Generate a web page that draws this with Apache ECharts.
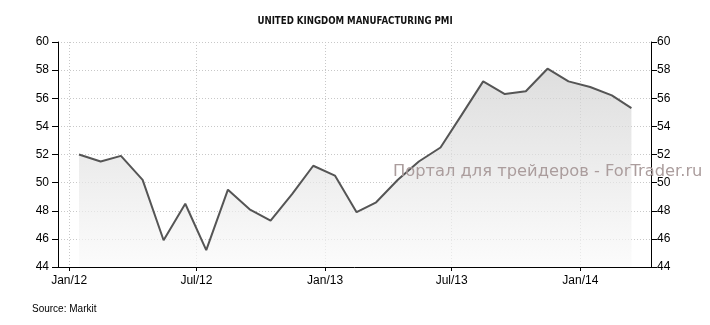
<!DOCTYPE html>
<html>
<head>
<meta charset="utf-8">
<script src="https://cdn.jsdelivr.net/npm/echarts@6/dist/echarts.min.js"></script>
<style>html,body{margin:0;padding:0;background:#fff}#c{width:710px;height:325px}</style>
</head>
<body>
<div id="c"></div>
<script>
var months = ['2012-01','2012-02','2012-03','2012-04','2012-05','2012-06','2012-07','2012-08','2012-09','2012-10','2012-11','2012-12',
  '2013-01','2013-02','2013-03','2013-04','2013-05','2013-06','2013-07','2013-08','2013-09','2013-10','2013-11','2013-12',
  '2014-01','2014-02','2014-03'];
var pmi = [52.0,51.5,51.9,50.2,45.9,48.5,45.2,49.5,48.1,47.3,49.2,51.2,
  50.5,47.9,48.6,50.2,51.5,52.5,54.8,57.2,56.3,56.5,58.1,57.2,
  56.8,56.2,55.3];
var tickDates = ['2012-01','2012-07','2013-01','2013-07','2014-01'];
var tickLabels = ['Jan/12','Jul/12','Jan/13','Jul/13','Jan/14'];
var axisStart = '2011-12-16', axisEnd = '2014-04-12';

function ts(s){ var p = s.split('-'); return Date.UTC(+p[0], +p[1]-1, p[2] ? +p[2] : 1); }
function mid(s){ var p = s.split('-'); return Date.UTC(+p[0], +p[1]-1, 15); }
var tickTs = tickDates.map(function(d){ return ts(d); });
var data = months.map(function(m,i){ return [mid(m), pmi[i]]; });

var chart = echarts.init(document.getElementById('c'));
var labelFont = {color:'#000', fontFamily:'Liberation Sans', fontSize:12};
var yCommon = {
  type:'value', min:44, max:60, interval:2,
  axisLine:{show:true, lineStyle:{color:'#000', width:1}},
  axisTick:{show:true, length:6, lineStyle:{color:'#000'}}
};
chart.setOption({
  animation:false,
  title:{text:'UNITED KINGDOM MANUFACTURING PMI', left:'center', top:11,
    textStyle:{fontFamily:'DejaVu Sans Condensed', fontWeight:'bold', fontSize:9.6, color:'#111'}},
  grid:{left:58, right:59, top:42, bottom:58},
  xAxis:{type:'value', min:ts(axisStart), max:ts(axisEnd),
    axisLine:{lineStyle:{color:'#000', width:1}, onZero:false},
    axisTick:{customValues:tickTs, length:4, lineStyle:{color:'#000'}},
    axisLabel:Object.assign({customValues:tickTs, margin:8,
      formatter:function(v){ var i = tickTs.indexOf(v); return i>=0 ? tickLabels[i] : ''; }}, labelFont),
    splitLine:{show:true, lineStyle:{color:'#c8c8c8', type:[1,2]}}
  },
  yAxis:[
    Object.assign({position:'left', axisLabel:Object.assign({margin:9}, labelFont),
      splitLine:{show:true, lineStyle:{color:'#c8c8c8', type:[1,2]}}}, yCommon),
    Object.assign({position:'right', axisLabel:Object.assign({margin:6}, labelFont),
      splitLine:{show:false}}, yCommon)
  ],
  series:[{
    type:'line', data:data, yAxisIndex:0, symbol:'none',
    lineStyle:{color:'#555', width:2},
    areaStyle:{origin:'start', color:new echarts.graphic.LinearGradient(0,0,0,1,[
      {offset:0, color:'#cfcfcf'},{offset:1, color:'#fafafa'}])}
  }],
  graphic:[
    {type:'text', left:393, top:164, z:100,
      style:{text:'Портал для трейдеров - ForTrader.ru', fill:'#ab9d9d', font:'16.3px "DejaVu Sans"'}},
    {type:'text', left:32, top:304,
      style:{text:'Source: Markit', fill:'#000', font:'10px "Liberation Sans"'}}
  ]
});
</script>
</body>
</html>
